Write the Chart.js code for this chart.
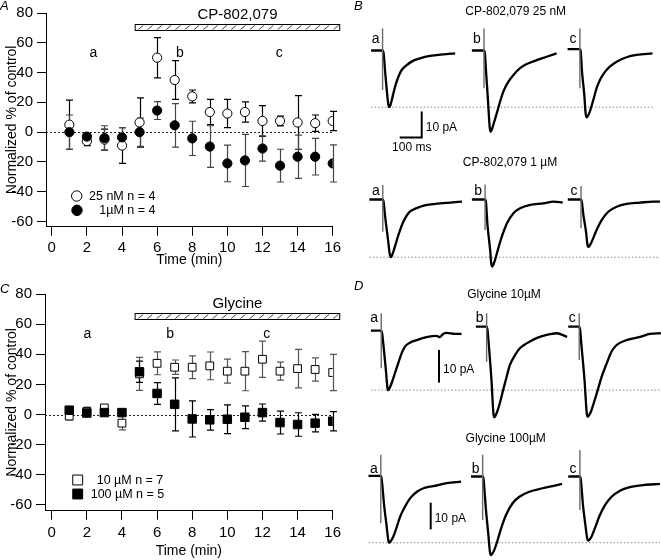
<!DOCTYPE html>
<html>
<head>
<meta charset="utf-8">
<script src="https://cdn.jsdelivr.net/npm/chart.js@4.4.1/dist/chart.umd.min.js"></script>
<style>
html,body{margin:0;padding:0;background:#fff;}
#wrap{position:relative;width:661px;height:560px;overflow:hidden;background:#fff;}
canvas{position:absolute;}
</style>
</head>
<body>
<div id="wrap">
<canvas id="cA" width="360" height="270" style="left:0;top:0;"></canvas>
<canvas id="cC" width="360" height="290" style="left:0;top:270px;"></canvas>
<canvas id="cB" width="311" height="280" style="left:350px;top:0;"></canvas>
<canvas id="cD" width="311" height="280" style="left:350px;top:280px;"></canvas>
</div>
<script>
// ================= DATA =================
// Time course (panels A and C)
const minutes = [1,2,3,4,5,6,7,8,9,10,11,12,13,14,15,16];
const xTickValues = [0,2,4,6,8,10,12,14,16];
const yTickValues = [-60,-40,-20,0,20,40,60,80];

const cp25Mean = [5,-6,-5,-9,6.5,50,35,24,13.5,12.5,13.5,7.5,7.5,6.5,6,7.5];
const cp25Err  = [16.5,3,7,12,16.5,13.5,13,4.3,8.5,9.5,6.8,10.3,3.3,18,5.5,6.5];
const cp1Mean  = [0,-3,-4,-3.5,0,14.5,4.6,-4.2,-9.7,-21,-19,-11,-22.5,-16.5,-16.5,-21];
const cp1Err   = [11.5,2,8.3,6.5,9.5,6,14.6,11.5,14,12.3,17.5,8.5,11,14.5,12.3,12.5];

const gly10Mean  = [-1,2,4.4,-5.7,27,34,31.4,31.4,32.3,28.8,28.8,36.7,28.8,30.5,29.9,27.9];
const gly10Err   = [2.5,3,2,4.5,11,7.6,4.8,7.6,9.2,8,13,12,6,12.8,7.7,12];
const gly100Mean = [2.9,1,1.3,1.3,28.4,14,6.8,-2.9,-3.5,-3.1,-1.8,1.3,-5.3,-6.6,-5.7,-4.4];
const gly100Err  = [2,2,2,1.5,7,7.2,17.6,12,6.8,9.5,7.5,5.7,7.6,7.8,5.8,6.4];

const cpApplication  = [4.75, 16.4];   // min
const glyApplication = [4.75, 16.4];   // min
const cpSampleTimes  = [2.37, 7.3, 12.96];
const glySampleTimes = [2.03, 6.74, 12.24];
const sampleNames = ['a','b','c'];

// Current traces [time ms from stimulus, current pA]
const cp25_a = [[-52,0],[-2,0],[4,-0.6],[11,-7.5],[20,-16],[26,-20.6],[30,-21.8],[35,-21.2],[42,-19],[57,-13.9],[72,-10.1],[87,-7.5],[110,-5.6],[140,-3.9],[170,-3.0],[216,-2.1],[276,-1.5],[330,-1.1]];
const cp25_b = [[-55,0],[0,0],[4,-1],[9,-7.5],[18,-19],[26,-29.5],[30,-31.3],[35,-30.6],[42,-28.7],[58,-24.2],[73,-19.7],[88,-15.8],[111,-12],[134,-9.4],[164,-6.8],[194,-5.2],[240,-3.7],[285,-2.4],[330,-1.1]];
const cp25_c = [[-56,0.5],[0,0.5],[4,-0.5],[9,-7.5],[20,-17.1],[26,-24.2],[30,-25.7],[36,-25.2],[45,-23.5],[61,-19],[76,-14.5],[91,-11.3],[114,-8.2],[136,-6.2],[167,-4.3],[212,-2.6],[258,-1.7],[330,-1.1]];
const cp25Artifacts = [[8.5,-15.2],[8.5,-14.5],[8.5,-14.5]];

const cp1_a = [[-61,0],[0,0],[4,-1],[10,-6],[24,-15.6],[32,-21.2],[36,-22.2],[41,-21.7],[48,-20.1],[64,-15.6],[79,-11.7],[94,-8.5],[116,-5.3],[140,-3.8],[170,-2.8],[201,-2.1],[261,-1.5],[306,-1.2],[360,-0.8]];
const cp1_b = [[-60,0],[0,0],[4,-1],[11,-9.8],[23,-19.4],[28,-24.6],[32,-25.8],[37,-25.2],[45,-23.3],[60,-18.8],[76,-14.3],[99,-9.2],[129,-5.3],[159,-3.4],[205,-2.1],[265,-1.5],[311,-0.8],[353,-1.2]];
const cp1_c = [[-60,0],[0,0],[4,-1],[11,-6],[23,-12.5],[29,-17.2],[33,-18.2],[39,-17.8],[49,-16.2],[71,-11.7],[94,-7.9],[124,-4.7],[162,-2.8],[207,-1.7],[268,-1.2],[329,-0.8],[359,-0.8]];
const cp1Artifacts = [[5.6,-12.4],[5.8,-11.7],[5.2,-11]];

const gly10_a = [[-47,-1.2],[0,-1.2],[4,-2],[10,-5.6],[21,-13.2],[28,-18.6],[32,-19.4],[37,-18.9],[47,-17.3],[62,-14.3],[77,-11.2],[93,-8.1],[108,-6.1],[130,-4.9],[161,-4.1],[206,-3.2],[252,-2.8],[266,-3.2],[280,-2.3],[297,-1.9],[335,-2.2],[365,-2.2]];
const gly10_b = [[-49,0],[0,0],[4,-1],[10,-5.6],[22,-16.3],[31,-26.6],[35,-27.7],[40,-27.3],[48,-26],[60,-23.4],[75,-19.4],[91,-15.3],[106,-11.7],[129,-8.7],[151,-6.6],[182,-5.1],[227,-3.5],[273,-2.5],[318,-2.0],[366,-3.1]];
const gly10_c = [[-50,0],[0,0],[4,-1],[10,-5.6],[24,-16.3],[34,-26.4],[38,-27.5],[44,-27.1],[53,-26],[68,-22.9],[84,-19.4],[102,-15.3],[125,-11.2],[147,-7.6],[170,-5.6],[215,-4.1],[277,-3.1],[322,-2.2],[371,-2.0]];
const gly10Artifacts = [[4.1,-12.7],[4.1,-10.7],[4.1,-10.2]];

const gly100_a = [[-56,0.2],[0,0.2],[4,-1],[15,-10.7],[26,-18.2],[34,-23.8],[39,-24.8],[45,-24.3],[57,-22.5],[73,-18.8],[88,-15],[110,-11.3],[133,-8.2],[164,-5.7],[194,-4.4],[239,-3.6],[300,-2.5],[365,-1.9]];
const gly100_b = [[-53,0],[0,0],[4,-1],[15,-12.5],[26,-21.9],[33,-28.2],[38,-29.4],[44,-28.9],[53,-27.5],[68,-23.8],[84,-19.4],[106,-14.4],[136,-10],[167,-7.6],[212,-5.7],[273,-4.4],[318,-3.6],[361,-2.8]];
const gly100_c = [[-53,0],[0,0],[4,-1],[14,-10.7],[25,-18.2],[33,-23.1],[38,-24],[44,-23.6],[53,-22.5],[68,-19.4],[88,-15],[114,-10.7],[144,-7.6],[182,-5.3],[227,-4],[288,-3.2],[364,-2.8]];
const gly100Artifacts = [[8.1,-17.5],[8.1,-16.3],[9.9,-12.5]];

const scaleBarPA = 10;
const scaleBarMS = 100;

// ================= LAYOUT / STYLE =================
const FONT = '"Liberation Sans", Arial, Helvetica, sans-serif';
const msPerPx = 100 / 22;

function ticksFrom(arr){ return s => { s.ticks = arr.map(v => ({value: v})); }; }

function drawMarker(ctx, style, x, y, r, filled){
  ctx.save();
  ctx.beginPath();
  if (style === 'circle') ctx.arc(x, y, r, 0, Math.PI*2);
  else { const s = r*Math.SQRT1_2; ctx.rect(x-s, y-s, 2*s, 2*s); }
  ctx.fillStyle = filled ? '#000' : '#fff';
  ctx.fill();
  ctx.lineWidth = 1; ctx.strokeStyle = '#000'; ctx.stroke();
  ctx.restore();
}

function makeTimecourse(id, o){
  const canvas = document.getElementById(id);
  const H = canvas.height;
  const plugin = {
    id: 'tc_' + id,
    beforeDatasetsDraw(chart){
      const {ctx, chartArea: a, scales: {x, y}} = chart;
      ctx.save();
      const y0 = Math.round(y.getPixelForValue(0)) + 0.5;
      ctx.strokeStyle = '#222'; ctx.lineWidth = 1; ctx.setLineDash([2,2]);
      ctx.beginPath(); ctx.moveTo(a.left, y0); ctx.lineTo(a.right, y0); ctx.stroke();
      ctx.setLineDash([]);
      chart.data.datasets.slice().reverse().forEach(ds => {
        ctx.strokeStyle = ds.errColor; ctx.lineWidth = ds.errWidth;
        ds.data.forEach((p, i) => {
          const px = Math.round(x.getPixelForValue(p.x)) + 0.5;
          const yt = y.getPixelForValue(p.y + ds.err[i]);
          const yb = y.getPixelForValue(p.y - ds.err[i]);
          ctx.beginPath();
          ctx.moveTo(px, yt); ctx.lineTo(px, yb);
          ctx.moveTo(px-3.5, yt); ctx.lineTo(px+3.5, yt);
          ctx.moveTo(px-3.5, yb); ctx.lineTo(px+3.5, yb);
          ctx.stroke();
        });
      });
      ctx.restore();
    },
    afterDatasetsDraw(chart){
      const {ctx, scales: {x, y}} = chart;
      ctx.save();
      // drug application bar
      const x0 = x.getPixelForValue(o.window[0]), x1 = x.getPixelForValue(o.window[1]);
      const yt = Math.round(y.getPixelForValue(o.barHi)) + 0.5, yb = Math.round(y.getPixelForValue(o.barLo)) + 0.5;
      ctx.fillStyle = '#fff'; ctx.fillRect(x0, yt, x1-x0, yb-yt);
      ctx.save();
      ctx.beginPath(); ctx.rect(x0, yt, x1-x0, yb-yt); ctx.clip();
      ctx.strokeStyle = '#444'; ctx.lineWidth = 1;
      const h = yb - yt;
      for (let xs = x0 + 3; xs < x1; xs += 9.3){
        ctx.beginPath(); ctx.moveTo(xs, yb-1); ctx.lineTo(xs + h - 1, yt + 1); ctx.stroke();
      }
      ctx.restore();
      ctx.strokeStyle = '#000'; ctx.lineWidth = 1;
      ctx.strokeRect(x0, yt, x1-x0, yb-yt);
      ctx.fillStyle = '#000';
      ctx.font = '15px ' + FONT; ctx.textAlign = 'center'; ctx.textBaseline = 'alphabetic';
      ctx.fillText(o.drug, (x0+x1)/2, yt - 6);
      // sample labels a, b, c
      ctx.font = '14px ' + FONT;
      o.samples.forEach((t, i) => ctx.fillText(sampleNames[i], x.getPixelForValue(t), y.getPixelForValue(50.5)));
      // panel letter
      ctx.font = 'italic 13px ' + FONT; ctx.textAlign = 'left';
      ctx.fillText(o.letter, 0, o.letterY);
      // legend
      ctx.font = '12.5px ' + FONT; ctx.textBaseline = 'middle';
      o.legend.forEach((it, i) => {
        const ds = chart.data.datasets[it.ds];
        drawMarker(ctx, o.style, it.mx, it.my, o.legendR, ds.backgroundColor === '#000');
        ctx.fillStyle = '#000';
        ctx.fillText(ds.label, it.tx, it.my + 0.5);
      });
      ctx.restore();
    }
  };
  const axisCommon = {
    grid: {drawOnChartArea: false, drawTicks: true, tickLength: 9, color: '#000', lineWidth: 1},
    border: {display: true, color: '#000', width: 1},
  };
  return new Chart(canvas, {
    type: 'scatter',
    data: {datasets: [
      {label: o.labels[1], data: minutes.map((t,i)=>({x:t, y:o.means[1][i]})), err: o.errs[1],
       pointStyle: o.style, pointRadius: o.radius[1], backgroundColor: '#000', borderColor: '#000', borderWidth: 1,
       errColor: o.errColors[1], errWidth: 1.2},
      {label: o.labels[0], data: minutes.map((t,i)=>({x:t, y:o.means[0][i]})), err: o.errs[0],
       pointStyle: o.style, pointRadius: o.radius[0], backgroundColor: '#fff', borderColor: '#000', borderWidth: 1,
       errColor: o.errColors[0], errWidth: 1.2}
    ]},
    options: {
      responsive: false, animation: false, events: [], devicePixelRatio: 1,
      layout: {padding: {top: o.area.top, right: canvas.width - o.area.right, left: 0, bottom: 0}, autoPadding: false},
      plugins: {legend: {display: false}, tooltip: {enabled: false}},
      scales: {
        x: Object.assign({}, axisCommon, {
          type: 'linear', min: o.xMin, max: 16,
          afterBuildTicks: ticksFrom(xTickValues),
          afterFit: s => { s.height = H - o.area.bottom; },
          ticks: {color: '#000', font: {family: FONT, size: 15}, padding: o.xTickPad, maxRotation: 0, autoSkip: false},
          title: {display: true, text: 'Time (min)', color: '#000', font: {family: FONT, size: 14}, padding: {top: 0, bottom: o.xTitlePad}}
        }),
        y: Object.assign({}, axisCommon, {
          type: 'linear', min: o.yMin, max: 80,
          afterBuildTicks: ticksFrom(yTickValues),
          afterFit: s => { s.width = o.area.left; },
          ticks: {color: '#000', font: {family: FONT, size: 15}, padding: 4, autoSkip: false},
          title: {display: true, text: 'Normalized % of control', color: '#000', font: {family: FONT, size: 14}, padding: {top: 3.5, bottom: 0}}
        })
      }
    },
    plugins: [plugin]
  });
}

makeTimecourse('cA', {
  means: [cp25Mean, cp1Mean], errs: [cp25Err, cp1Err],
  labels: ['25 nM n = 4', '1\u00b5M n = 4'],
  style: 'circle', radius: [4.6, 4.6], errColors: ['#000', '#444'],
  area: {left: 46, right: 332.7, top: 9, bottom: 226.7},
  xMin: -0.33, yMin: -63.5, xTickPad: 3, xTitlePad: 1,
  window: cpApplication, barLo: 68.4, barHi: 72.3, drug: 'CP-802,079',
  samples: cpSampleTimes, letter: 'A', letterY: 9.5,
  legendR: 5.2,
  legend: [{ds: 1, mx: 76.7, my: 196, tx: 89}, {ds: 0, mx: 77, my: 210.3, tx: 99.3}]
});

makeTimecourse('cC', {
  means: [gly10Mean, gly100Mean], errs: [gly10Err, gly100Err],
  labels: ['10 \u00b5M n = 7', '100 \u00b5M n = 5'],
  style: 'rect', radius: [5.5, 6], errColors: ['#555', '#000'],
  area: {left: 45, right: 332.7, top: 24, bottom: 240.7},
  xMin: -0.38, yMin: -63.8, xTickPad: 4.5, xTitlePad: 0,
  window: glyApplication, barLo: 63.1, barHi: 67.1, drug: 'Glycine',
  samples: glySampleTimes, letter: 'C', letterY: 23,
  legendR: 7,
  legend: [{ds: 1, mx: 77.7, my: 210, tx: 96.7}, {ds: 0, mx: 77.7, my: 224, tx: 90.7}]
});

// ================= Trace panels (B and D) =================
function makeTraces(id, o){
  const canvas = document.getElementById(id);
  const W = canvas.width, H = canvas.height;
  const datasets = [];
  const axes = ['yTop', 'yBot'];
  o.rows.forEach((row, r) => {
    row.traces.forEach((tr, k) => {
      datasets.push({data: tr.map(p => ({x: p[0] + row.offsets[k], y: p[1]})), yAxisID: axes[r],
        borderColor: '#000', borderWidth: 2.3, pointRadius: 0, cubicInterpolationMode: 'monotone', fill: false, order: 1});
      const art = row.artifacts[k];
      datasets.push({data: [{x: row.offsets[k], y: art[0]}, {x: row.offsets[k], y: art[1]}], yAxisID: axes[r],
        borderColor: '#6a6a6a', borderWidth: 1.4, pointRadius: 0, fill: false, order: 0});
    });
    // dotted line at the control (trace a) peak
    const peak = Math.min(...row.traces[0].map(p => p[1]));
    const first = row.traces[0][0][0] + row.offsets[0];
    const lastTr = row.traces[2];
    const last = lastTr[lastTr.length-1][0] + row.offsets[2];
    datasets.push({data: [{x: first, y: peak}, {x: last, y: peak}], yAxisID: axes[r],
      borderColor: '#8a8a8a', borderWidth: 1, borderDash: [1.5, 2], pointRadius: 0, fill: false, order: 2});
  });
  const scales = {x: {type: 'linear', display: false, min: 0, max: W * msPerPx}};
  o.rows.forEach((row, r) => {
    scales[axes[r]] = {type: 'linear', display: false, max: row.baseline / row.pxPerPA, min: -(H - row.baseline) / row.pxPerPA};
  });
  const plugin = {
    id: 'tr_' + id,
    afterDatasetsDraw(chart){
      const {ctx, scales: sc} = chart;
      ctx.save();
      ctx.fillStyle = '#000';
      ctx.font = 'italic 13px ' + FONT; ctx.textAlign = 'left'; ctx.textBaseline = 'alphabetic';
      ctx.fillText(o.letter, 4, 9.5);
      o.rows.forEach((row, r) => {
        ctx.font = '12px ' + FONT; ctx.textAlign = 'center'; ctx.textBaseline = 'middle';
        ctx.fillText(row.title, row.titleX, row.titleY);
        ctx.font = '14px ' + FONT; ctx.textBaseline = 'alphabetic';
        row.offsets.forEach((off, k) => ctx.fillText(sampleNames[k], sc.x.getPixelForValue(off) - 7, row.labelY));
      });
      o.bars.forEach(b => {
        const ys = sc[b.axis];
        const xr = sc.x.getPixelForValue(b.xMs);
        const yb = ys.getPixelForValue(b.yPA), yt = ys.getPixelForValue(b.yPA + scaleBarPA);
        ctx.strokeStyle = '#000'; ctx.lineWidth = 2;
        ctx.beginPath(); ctx.moveTo(xr, yt); ctx.lineTo(xr, yb);
        if (b.showMs) ctx.lineTo(sc.x.getPixelForValue(b.xMs - scaleBarMS), yb);
        ctx.stroke();
        ctx.font = '12px ' + FONT; ctx.textAlign = 'left'; ctx.textBaseline = 'middle';
        ctx.fillText(scaleBarPA + ' pA', xr + 4, (yt + yb)/2 + 3);
        if (b.showMs){
          ctx.textAlign = 'center';
          ctx.fillText(scaleBarMS + ' ms', sc.x.getPixelForValue(b.xMs - scaleBarMS/2) + 1, yb + 10);
        }
      });
      ctx.restore();
    }
  };
  return new Chart(canvas, {
    type: 'line',
    data: {datasets},
    options: {
      responsive: false, animation: false, events: [], devicePixelRatio: 1,
      layout: {padding: 0, autoPadding: false},
      plugins: {legend: {display: false}, tooltip: {enabled: false}},
      scales
    },
    plugins: [plugin]
  });
}

makeTraces('cB', {
  letter: 'B',
  rows: [
    {traces: [cp25_a, cp25_b, cp25_c], artifacts: cp25Artifacts, offsets: [148, 609, 1045],
     baseline: 50.5, pxPerPA: 2.6, title: 'CP-802,079 25 nM', titleX: 165.7, titleY: 11.7, labelY: 43.3},
    {traces: [cp1_a, cp1_b, cp1_c], artifacts: cp1Artifacts, offsets: [149, 614, 1050],
     baseline: 199.5, pxPerPA: 2.6, title: 'CP-802,079 1 \u00b5M', titleX: 160, titleY: 162.7, labelY: 195}
  ],
  bars: [{axis: 'yTop', xMs: 326, yPA: -33.5, showMs: true}]
});

makeTraces('cD', {
  letter: 'D',
  rows: [
    {traces: [gly10_a, gly10_b, gly10_c], artifacts: gly10Artifacts, offsets: [142, 621, 1042],
     baseline: 46.7, pxPerPA: 3.27, title: 'Glycine 10\u00b5M', titleX: 154, titleY: 15, labelY: 41.7},
    {traces: [gly100_a, gly100_b, gly100_c], artifacts: gly100Artifacts, offsets: [140, 603, 1045],
     baseline: 196.5, pxPerPA: 2.67, title: 'Glycine 100\u00b5M', titleX: 155.7, titleY: 158.3, labelY: 193.3}
  ],
  bars: [{axis: 'yTop', xMs: 404.5, yPA: -17.1, showMs: false}, {axis: 'yBot', xMs: 366.8, yPA: -19.8, showMs: false}]
});
</script>
</body>
</html>
